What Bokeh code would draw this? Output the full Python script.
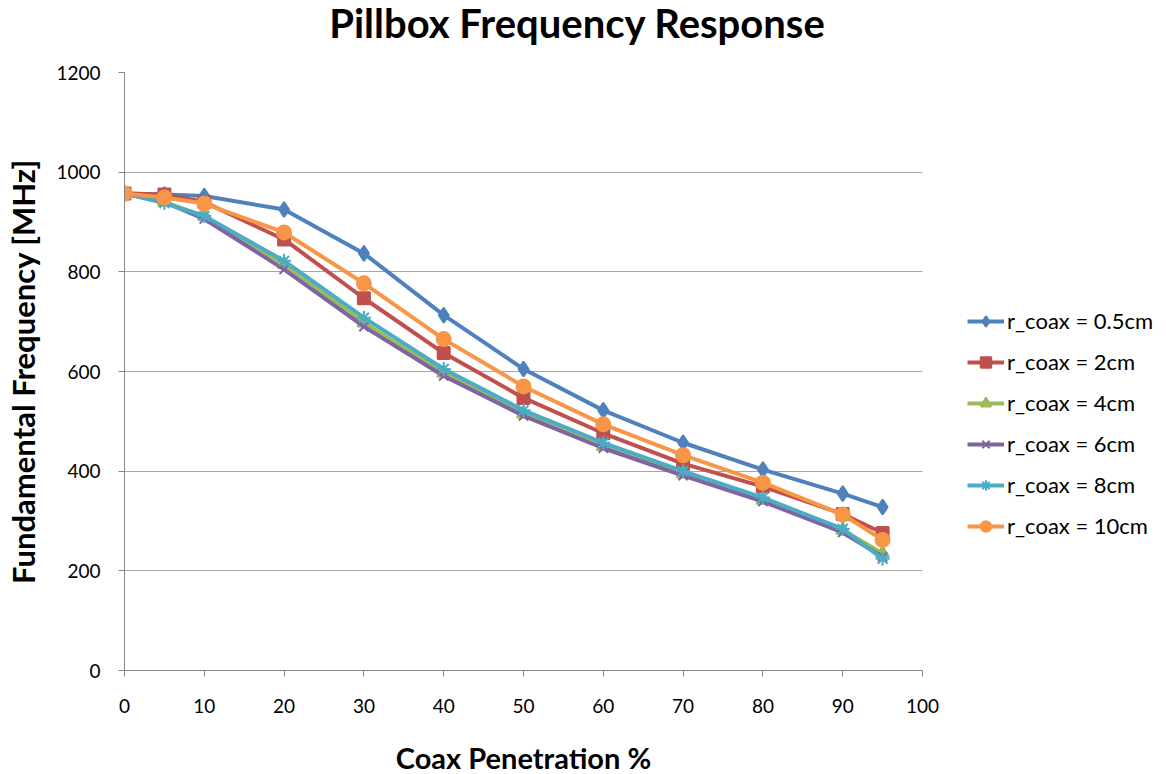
from bokeh.plotting import figure
from bokeh.layouts import column
from bokeh.models import Legend, LegendItem, FixedTicker, Range1d
from bokeh.core.properties import value
from bokeh.embed import file_html
from bokeh.resources import INLINE

title_text = "Pillbox Frequency Response"
penetration = [0, 5, 10, 20, 30, 40, 50, 60, 70, 80, 90, 95]
f_05 = [957, 955, 952, 925, 837, 713, 605, 522, 457, 403, 355, 328]
f_2 = [957, 955, 940, 865, 747, 637, 547, 476, 415, 369, 314, 276]
f_4 = [957, 940, 912, 815, 698, 597, 515, 450, 395, 342, 282, 235]
f_6 = [957, 940, 906, 805, 690, 591, 511, 446, 391, 339, 277, 228]
f_8 = [957, 938, 912, 822, 708, 605, 522, 457, 400, 347, 284, 224]
f_10 = [957, 949, 937, 879, 777, 665, 570, 494, 432, 377, 313, 262]

labels = ["r_coax = 0.5cm", "r_coax = 2cm", "r_coax = 4cm",
          "r_coax = 6cm", "r_coax = 8cm", "r_coax = 10cm"]
colors = ["#4F81BD", "#C0504D", "#9BBB59", "#8064A2", "#4BACC6", "#F79646"]
markers = ["diamond", "square", "triangle", "x", "asterisk", "circle"]
marker_sizes = [15, 12, 13, 13, 14, 14]
series = [f_05, f_2, f_4, f_6, f_8, f_10]

FONT = "Lato"
W = 1160
TITLE_H = 60
LEFT = 124

# title strip (SVG text); its frame is aligned with the main plot frame
t = figure(frame_width=W - LEFT, frame_height=TITLE_H, output_backend="svg",
           toolbar_location=None, x_axis_location=None, y_axis_location=None,
           x_range=Range1d(LEFT, W), y_range=Range1d(0, TITLE_H),
           min_border=0, outline_line_color=None)
t.grid.visible = False
t.text(x=[577], y=[TITLE_H - 22], text=[title_text], text_align="center",
       text_baseline="middle", text_font=value(FONT), text_font_size="40px",
       text_font_style="bold", text_color="black")

p = figure(width=W, height=774 - TITLE_H, output_backend="svg", toolbar_location=None,
           x_range=Range1d(0, 100), y_range=Range1d(0, 1200),
           min_border_left=LEFT, min_border_top=72 - TITLE_H, min_border_right=238,
           min_border_bottom=104, frame_width=798, frame_height=598)
p.outline_line_color = None
p.background_fill_color = "white"
p.border_fill_color = "white"

for ax in (p.xaxis[0], p.yaxis[0]):
    ax.axis_line_color = "#868686"
    ax.major_tick_line_color = "#868686"
    ax.minor_tick_line_color = None
    ax.major_tick_in = 0
    ax.major_tick_out = 6
    ax.major_label_text_font = FONT
    ax.major_label_text_font_size = "19px"
    ax.major_label_text_color = "black"
    ax.axis_label_text_font = FONT
    ax.axis_label_text_font_style = "bold"
    ax.axis_label_text_color = "black"

p.xaxis[0].axis_label_text_font_size = "29px"
p.yaxis[0].axis_label_text_font_size = "31px"
p.xaxis[0].ticker = FixedTicker(ticks=list(range(0, 101, 10)))
p.yaxis[0].ticker = FixedTicker(ticks=list(range(0, 1201, 200)))
p.xaxis[0].axis_label = "Coax Penetration %"
p.yaxis[0].axis_label = "Fundamental Frequency [MHz]"
p.xaxis[0].major_label_standoff = 22
p.xaxis[0].axis_label_standoff = 24
p.yaxis[0].major_label_standoff = 18
p.yaxis[0].axis_label_standoff = 11

p.xgrid.grid_line_color = None
p.ygrid.grid_line_color = "#A6A6A6"
p.ygrid.grid_line_width = 1

items = []
for vals, lab, col, mk, ms in zip(series, labels, colors, markers, marker_sizes):
    r1 = p.line(penetration, vals, line_color=col, line_width=4)
    r2 = p.scatter(penetration, vals, marker=mk, size=ms, fill_color=col,
                   line_color=col, line_width=2)
    items.append(LegendItem(label=lab, renderers=[r1, r2]))

legend = Legend(items=items, location=(45, 131))
legend.border_line_color = None
legend.background_fill_alpha = 0
legend.label_text_font = FONT
legend.label_text_font_size = "22px"
legend.label_text_color = "black"
legend.glyph_width = 37
legend.glyph_height = 26
legend.label_height = 26
legend.spacing = 14
legend.padding = 0
legend.margin = 0
legend.label_standoff = 3
p.add_layout(legend, "right")

layout = column(t, p, spacing=0)
open("out.html", "w").write(file_html(layout, INLINE))
